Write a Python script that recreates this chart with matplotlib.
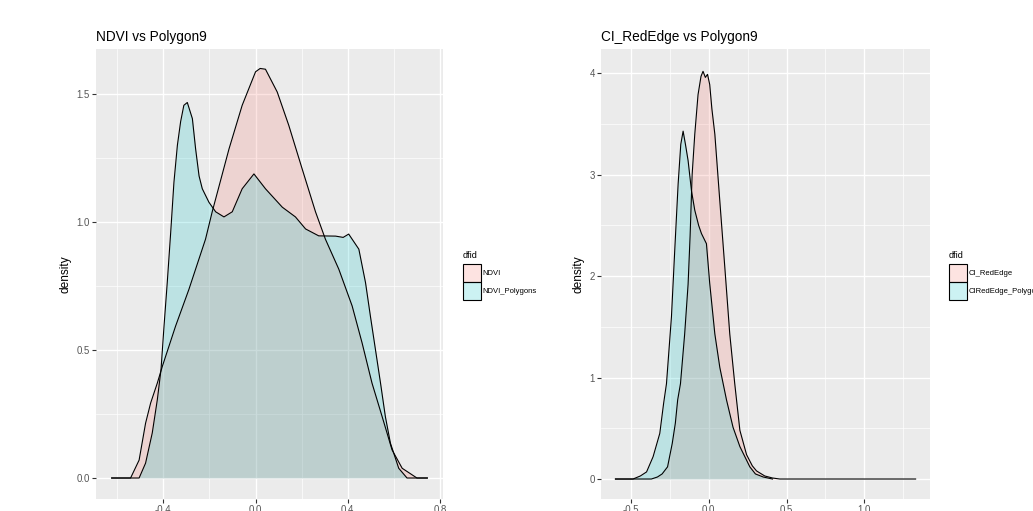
import matplotlib
matplotlib.use("Agg")
import matplotlib.pyplot as plt
from matplotlib.patches import Patch
from matplotlib.ticker import MultipleLocator

plt.rcParams['font.family'] = ['Liberation Sans', 'DejaVu Sans']

# ---------------- data ----------------
ndvi_x = [-0.624, -0.542, -0.505, -0.477, -0.455, -0.426, -0.404, -0.347, -0.289, -0.26,
          -0.217, -0.188, -0.115, -0.058, 0.0, 0.02, 0.043, 0.094, 0.144, 0.202,
          0.26, 0.303, 0.361, 0.419, 0.462, 0.505, 0.549, 0.592, 0.636, 0.70, 0.745]
ndvi_y = [0.0, 0.0, 0.07, 0.214, 0.293, 0.371, 0.437, 0.593, 0.737, 0.816,
          0.933, 1.04, 1.286, 1.456, 1.587, 1.60, 1.597, 1.508, 1.378, 1.208,
          1.04, 0.933, 0.816, 0.672, 0.528, 0.371, 0.24, 0.11, 0.038, 0.0, 0.0]

ndvipoly_x = [-0.624, -0.505, -0.477, -0.448, -0.426, -0.41, -0.397, -0.383, -0.368, -0.354,
              -0.339, -0.325, -0.311, -0.296, -0.274, -0.26, -0.245, -0.231, -0.202, -0.173,
              -0.137, -0.101, -0.058, -0.007, 0.043, 0.116, 0.173, 0.217, 0.274, 0.347,
              0.38, 0.404, 0.448, 0.477, 0.498, 0.52, 0.542, 0.563, 0.585, 0.621, 0.657, 0.745]
ndvipoly_y = [0.0, 0.0, 0.058, 0.176, 0.306, 0.424, 0.593, 0.763, 0.96, 1.155,
              1.30, 1.392, 1.456, 1.467, 1.404, 1.286, 1.18, 1.13, 1.077, 1.04,
              1.02, 1.04, 1.13, 1.188, 1.13, 1.058, 1.02, 0.973, 0.946, 0.945,
              0.94, 0.953, 0.894, 0.763, 0.633, 0.502, 0.371, 0.24, 0.136, 0.038, 0.0, 0.0]

ci_x = [-0.60, -0.369, -0.33, -0.30, -0.265, -0.235, -0.215, -0.20, -0.182, -0.155,
        -0.133, -0.12, -0.107, -0.09, -0.069, -0.05, -0.037, -0.022, -0.008, 0.006,
        0.02, 0.039, 0.071, 0.103, 0.135, 0.167, 0.20, 0.243, 0.28, 0.307,
        0.36, 0.41, 0.457, 1.33]
ci_y = [0.0, 0.0, 0.02, 0.05, 0.12, 0.35, 0.55, 0.78, 0.94, 1.43,
        1.92, 2.4, 3.0, 3.4, 3.79, 3.97, 4.02, 3.96, 3.99, 3.89,
        3.65, 3.4, 2.74, 2.09, 1.43, 0.94, 0.48, 0.24, 0.13, 0.08,
        0.03, 0.01, 0.0, 0.0]

cipoly_x = [-0.60, -0.487, -0.44, -0.40, -0.358, -0.315, -0.29, -0.272, -0.24, -0.219,
            -0.197, -0.18, -0.165, -0.15, -0.133, -0.111, -0.09, -0.065, -0.047, -0.015,
            0.006, 0.039, 0.071, 0.114, 0.156, 0.20, 0.264, 0.30, 0.35, 0.41]
cipoly_y = [0.0, 0.0, 0.03, 0.07, 0.22, 0.45, 0.75, 0.94, 1.6, 2.25,
            2.91, 3.3, 3.43, 3.3, 3.14, 2.84, 2.65, 2.5, 2.42, 2.32,
            1.93, 1.43, 1.10, 0.78, 0.51, 0.32, 0.12, 0.05, 0.02, 0.0]

titles = ["NDVI vs Polygon9", "CI_RedEdge vs Polygon9"]
legend_title = "dfid"
left_labels = ["NDVI", "NDVI_Polygons"]
right_labels = ["CI_RedEdge", "CIRedEdge_Polygons"]
left_xticks = [-0.4, 0.0, 0.4, 0.8]
left_yticks = [0.0, 0.5, 1.0, 1.5]
right_xticks = [-0.5, 0.0, 0.5, 1.0]
right_yticks = [0, 1, 2, 3, 4]

PINK = "#F8766D"
CYAN = "#00BFC4"
ALPHA = 0.2

W, H = 1033, 511
fig = plt.figure(figsize=(W / 100, H / 100), dpi=100)


def px_axes(x0, y0, x1, y1):
    return fig.add_axes([x0 / W, 1 - y1 / H, (x1 - x0) / W, (y1 - y0) / H])


def style(ax, xlim, ylim, xt, yt, xminor, yminor, yfmt):
    ax.set_facecolor("#EBEBEB")
    ax.set_xlim(*xlim)
    ax.set_ylim(*ylim)
    ax.set_xticks(xt)
    ax.set_yticks(yt)
    ax.set_yticklabels([yfmt.format(v) for v in yt])
    ax.set_xticklabels([f"{v:.1f}" for v in xt])
    ax.xaxis.set_minor_locator(MultipleLocator(xminor))
    ax.yaxis.set_minor_locator(MultipleLocator(yminor))
    ax.grid(True, which="major", color="white", linewidth=1.0)
    ax.grid(True, which="minor", color="white", linewidth=0.5)
    ax.set_axisbelow(True)
    for s in ax.spines.values():
        s.set_visible(False)
    ax.tick_params(which="major", length=2.8, width=0.8, color="#333333",
                   labelsize=6.9, labelcolor="#555555", pad=1.5)
    ax.tick_params(which="minor", length=0)
    ax.set_ylabel("density", fontsize=8.6, color="black", labelpad=4)


def density(ax, x, y, color):
    ax.fill_between(x, y, 0, color=color, alpha=ALPHA, linewidth=0)
    ax.plot(x, y, color="black", linewidth=0.8)


# left panel
ax1 = px_axes(96, 49, 443, 499)
density(ax1, ndvi_x, ndvi_y, PINK)
density(ax1, ndvipoly_x, ndvipoly_y, CYAN)
style(ax1, (-0.692, 0.813), (-0.082, 1.676), left_xticks, left_yticks, 0.2, 0.25, "{:.1f}")
ax1.set_title(titles[0], loc="left", fontsize=9.8, pad=6)

# right panel
ax2 = px_axes(601, 49, 930, 499)
density(ax2, ci_x, ci_y, PINK)
density(ax2, cipoly_x, cipoly_y, CYAN)
style(ax2, (-0.693, 1.4225), (-0.197, 4.24), right_xticks, right_yticks, 0.25, 0.5, "{:d}")
ax2.set_title(titles[1], loc="left", fontsize=9.8, pad=6)


def add_legend(ax, labels, x_px, y_px):
    handles = [Patch(edgecolor="black", linewidth=0.8),
               Patch(edgecolor="black", linewidth=0.8)]
    handles[0].set_facecolor((0.973, 0.463, 0.427, ALPHA))
    handles[1].set_facecolor((0.0, 0.749, 0.769, ALPHA))
    fig.text(x_px / W, 1 - (y_px - 9) / H, legend_title, fontsize=6.6,
             ha="left", va="center")
    leg = ax.legend(handles, labels, loc="upper left",
                    bbox_to_anchor=(x_px / W, 1 - y_px / H),
                    bbox_transform=fig.transFigure, frameon=False,
                    fontsize=5.5, handlelength=2.3,
                    handleheight=3.2, labelspacing=0.0, handletextpad=0.3,
                    borderpad=0.0, borderaxespad=0.0)
    return leg


add_legend(ax1, left_labels, 463, 264)
add_legend(ax2, right_labels, 949, 264)

fig.savefig("out.png", dpi=100)
